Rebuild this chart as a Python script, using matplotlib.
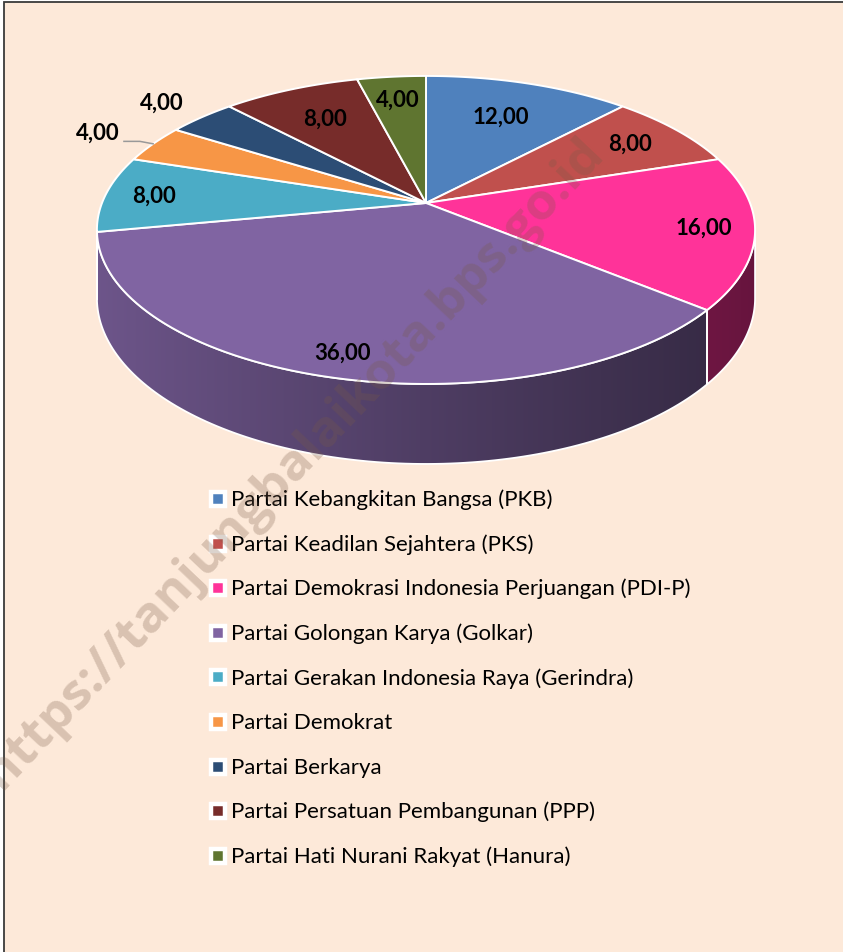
import numpy as np
import matplotlib.pyplot as plt
from matplotlib.patches import Polygon, Rectangle
import matplotlib.colors as mcolors

# Kursi DPRD per partai (persen)
parties = [
    "Partai Kebangkitan Bangsa (PKB)",
    "Partai Keadilan Sejahtera (PKS)",
    "Partai Demokrasi Indonesia Perjuangan (PDI-P)",
    "Partai Golongan Karya (Golkar)",
    "Partai Gerakan Indonesia Raya (Gerindra)",
    "Partai Demokrat",
    "Partai Berkarya",
    "Partai Persatuan Pembangunan (PPP)",
    "Partai Hati Nurani Rakyat (Hanura)",
]
values = [12, 8, 16, 36, 8, 4, 4, 8, 4]
colors = ["#4F81BD", "#C0504D", "#FF3399", "#8064A2", "#4BACC6",
          "#F79646", "#2C4D75", "#772C2A", "#5F7530"]
label_r = [0.70, 0.80, 0.85, 0.88, 0.85, 1.22, 1.20, 0.72, 0.80]

W, H = 843, 953
BG = "#FDE9D9"
CX, CY = 426, 204          # pie apex in pixels
RX, RY = 324, 149.3        # projected radii
K = 0.175                  # perspective strength
DEPTH = 66                 # thickness of the pie

def proj(r, t):
    t = np.radians(t)
    w = 1 + K * r * np.sin(t)
    return CX + RX * r * np.cos(t) / w, CY - RY * r * np.sin(t) / w

def thick(t):
    return DEPTH / (1 + K * np.sin(np.radians(t)))

fig = plt.figure(figsize=(W / 100, H / 100), dpi=100)
fig.patch.set_facecolor("white")
ax = fig.add_axes([0, 0, 1, 1])
ax.set_xlim(0, W)
ax.set_ylim(H, 0)
ax.axis("off")

ax.add_patch(Rectangle((4, 3), W + 10, H + 10, facecolor=BG,
                       edgecolor="#3a3a3a", lw=1.3, zorder=0))

cum = np.concatenate([[0], np.cumsum(values)])
starts = 90 - 3.6 * cum[:-1]
ends = 90 - 3.6 * cum[1:]

# visible front side of the disc, shaded darker to the right
vis_l = -180 + np.degrees(np.arcsin(K))
vis_r = -np.degrees(np.arcsin(K))
xs = np.linspace(CX - 335, CX + 335, 400)
shade = 0.86 - 0.46 * ((xs - xs[0]) / (xs[-1] - xs[0])) ** 0.9
for i in range(len(values)):
    a, b = max(ends[i], vis_l), min(starts[i], vis_r)
    if a >= b:
        continue
    ts = np.linspace(b, a, 120)
    top = [proj(1, t) for t in ts]
    bot = [(x, y + thick(t)) for (x, y), t in zip(top, ts)]
    base = np.array(mcolors.to_rgb(colors[i]))
    grad = (shade[:, None] * base[None, :])[None, :, :]
    side = Polygon(top + bot[::-1], closed=True, facecolor="none",
                   edgecolor="white", lw=1.3, zorder=2)
    ax.add_patch(side)
    im = ax.imshow(grad, extent=(xs[0], xs[-1], CY + 300, CY), aspect="auto",
                   interpolation="bilinear", zorder=1)
    im.set_clip_path(side)

# top face
for i in range(len(values)):
    ts = np.linspace(starts[i], ends[i], 80)
    pts = [(CX, CY)] + [proj(1, t) for t in ts]
    ax.add_patch(Polygon(pts, closed=True, facecolor=colors[i],
                         edgecolor="white", lw=1.4, zorder=3))

ax.set_xlim(0, W)
ax.set_ylim(H, 0)

# value labels
for i, v in enumerate(values):
    mid = (starts[i] + ends[i]) / 2
    x, y = proj(label_r[i], mid)
    ax.text(x, y, f"{v:.2f}".replace(".", ","), ha="center", va="center",
            fontsize=16, fontweight="bold", family="Lato", color="black", zorder=5)
    if label_r[i] > 1.21:
        xa, ya = proj(1.1, mid)
        xb, yb = proj(1.0, mid)
        ax.plot([xa - 4, xa + 12, xb], [ya + 3, ya + 3, yb], color="#999999",
                lw=1.1, zorder=4)

# legend
for i, name in enumerate(parties):
    y = 500 + i * 44.6
    ax.plot(218, y, marker="s", ms=10, mfc=colors[i], mec="white", mew=3.2, zorder=5)
    ax.text(231, y, name, ha="left", va="center", fontsize=16, family="Lato",
            color="black", zorder=5)

# watermark
ax.text(294, 464, "https://tanjungbalaikota.bps.go.id", rotation=46.5,
        ha="center", va="center", fontsize=37, fontweight="bold",
        family="Open Sans", color="#785a46", alpha=0.27, zorder=6)

fig.savefig("out.png", dpi=100, facecolor=fig.get_facecolor())
